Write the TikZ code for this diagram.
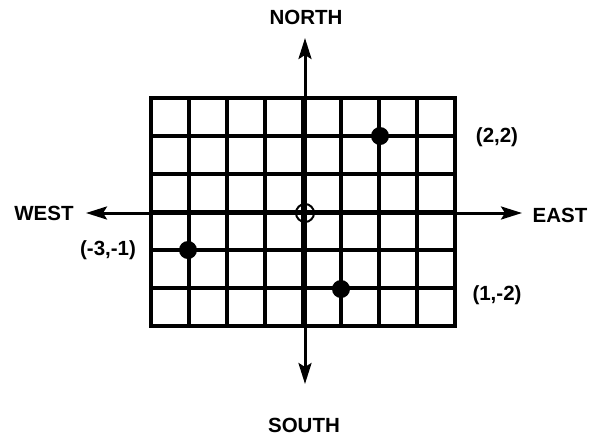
\documentclass[tikz,border=0pt]{standalone}
\usepackage{fontspec}
\setmainfont{Liberation Sans}
\usetikzlibrary{arrows.meta}
\begin{document}
\begin{tikzpicture}[x=1pt,y=-1pt,
  gridline/.style={line width=4.2pt,line cap=rect},
  axis/.style={line width=3pt,{Stealth[length=21pt,width=13pt,inset=4pt]}-{Stealth[length=21pt,width=13pt,inset=4pt]}},
  dot/.style={circle,fill=black,inner sep=0pt,minimum size=18pt},
  lbl/.style={font=\fontsize{20.5}{23}\selectfont\bfseries,inner sep=0pt},
  originmark/.style={circle,draw,line width=2pt,inner sep=0pt,minimum size=18pt}]
\useasboundingbox (0,0) rectangle (606,440);
\foreach \i in {0,...,8} \draw[gridline] (151+38*\i,98) -- (151+38*\i,325);
\foreach \j in {0,...,6} \draw[gridline] (151,98+38*\j) -- (455,98+38*\j);
\coordinate (ntip) at (305,38);
\coordinate (stip) at (305,384);
\coordinate (wtip) at (86,213);
\coordinate (etip) at (522,213);
\draw[axis] (stip) -- (ntip);
\draw[axis] (wtip) -- (etip);
\node[originmark] (O) at (305,213) {};
\node[dot] (p1) at (380,136) {};
\node[dot] (p2) at (188,250) {};
\node[dot] (p3) at (341,289) {};
\node[lbl] (north) at (306,17) {NORTH};
\node[lbl] (south) at (304,425) {SOUTH};
\node[lbl] (west) at (44,213) {WEST};
\node[lbl] (east) at (560,215) {EAST};
\node[lbl] (l1) at (497,137) {(2,2)};
\node[lbl] (l2) at (108,250) {(-3,-1)};
\node[lbl] (l3) at (497,295) {(1,-2)};
\end{tikzpicture}
\end{document}
